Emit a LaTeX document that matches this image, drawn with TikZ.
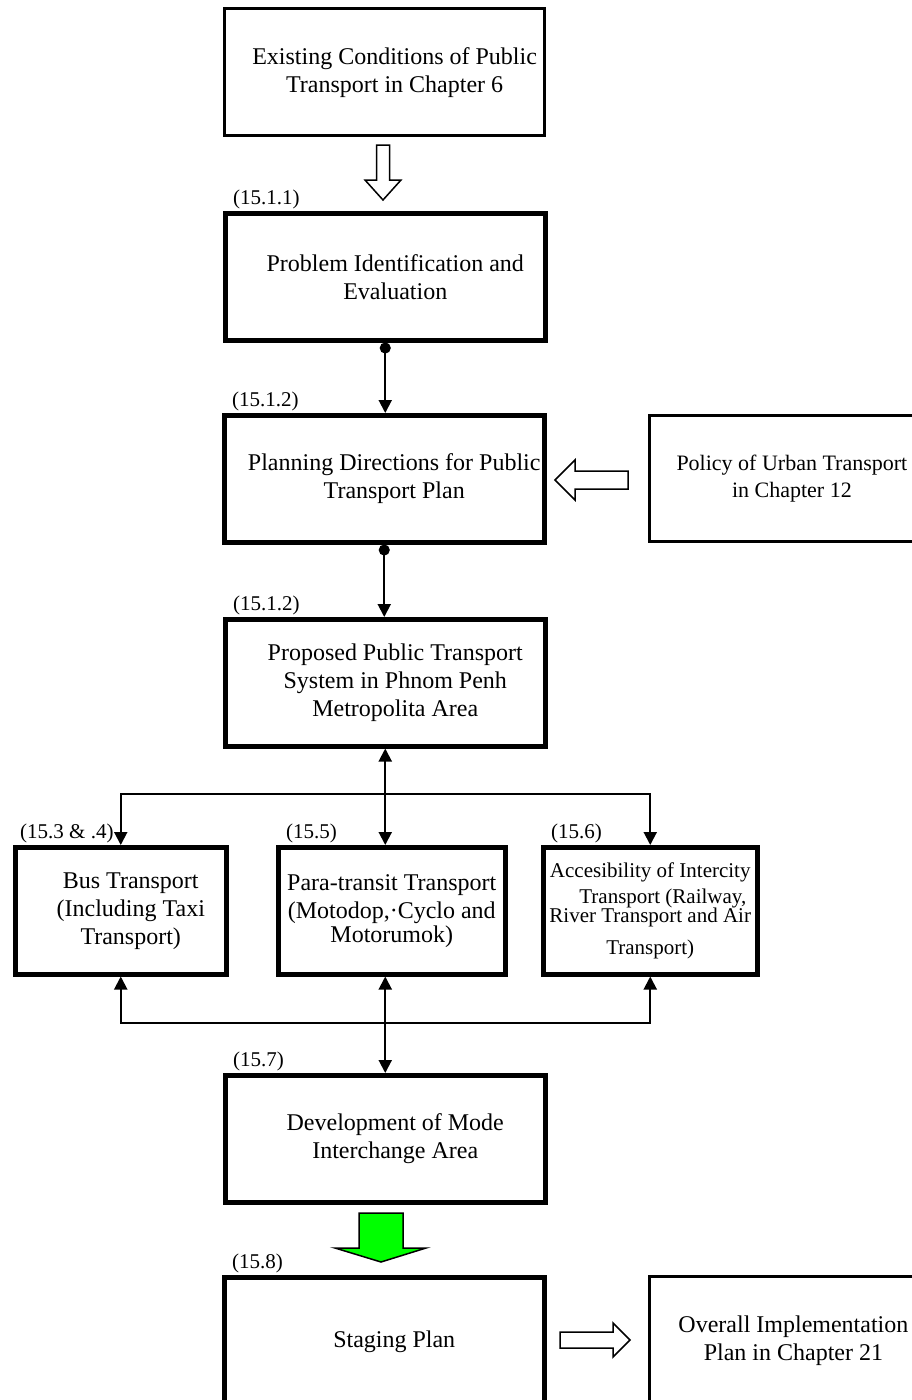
\documentclass[tikz,border=0pt]{standalone}
\usepackage{fontspec}
\setmainfont{Liberation Serif}
\usetikzlibrary{arrows.meta}
\tikzset{
  pt box/.style={draw=black, line width=4.5pt, fill=white, minimum width=320pt,
    minimum height=127pt, align=center, anchor=north west, inner sep=1pt,
    font=\fontsize{24}{28}\selectfont},
  pt side/.style={pt box, line width=2.8pt, font=\fontsize{22}{27}\selectfont},
  pt nudge/.style={align=flush center, text width=#1,
    execute at begin node={\leftskip=20pt plus 1fil\spaceskip=0pt\xspaceskip=0pt\relax}},
  pt tag/.style={anchor=south west, inner sep=0pt, xshift=10pt, yshift=2pt,
    font=\fontsize{21}{24}\selectfont},
  pt link/.style={line width=2pt, -{Triangle[length=13pt,width=13pt]}},
  pt both/.style={line width=2pt, {Triangle[length=13pt,width=13pt]}-{Triangle[length=13pt,width=13pt]}},
  pt dot/.style={line width=2pt, {Circle[length=11pt]}-{Triangle[length=13pt,width=13pt]}},
  pt hollow/.style={draw=black, line width=1.5pt, fill=white, line join=miter},
  pt green/.style={draw=black, line width=1.5pt, fill=green, line join=miter}
}
\begin{document}
\begin{tikzpicture}[x=1pt, y=-1pt]
  \useasboundingbox (0,0) rectangle (911,1400);
  % main column
  \node[pt box, pt nudge=318pt, line width=3.3pt] (exist) at (223,7) {Existing Conditions of Public\\Transport in Chapter 6};
  \node[pt box, pt nudge=318pt] (prob) at (223,211) {Problem Identification and\\Evaluation};
  \node[pt box, pt nudge=318pt] (plan) at (222,413) {Planning Directions for Public\\Transport Plan};
  \node[pt box, pt nudge=318pt] (prop) at (223,617) {Proposed Public Transport\\System in Phnom Penh\\Metropolita Area};
  \node[pt side, minimum width=285pt, minimum height=126pt] (policy) at (648,414) {Policy of Urban Transport\\in Chapter 12};
  % the three modes
  \node[pt box, pt nudge=205pt, minimum width=211pt] (bus) at (13,845) {Bus Transport\\(Including Taxi\\Transport)};
  \node[pt box, minimum width=227pt] (para) at (276,845) {Para-transit Transport\\(Motodop,·Cyclo and\\[-4pt]Motorumok)};
  \node[pt box, minimum width=214pt, inner sep=0pt, font=\fontsize{21}{26}\selectfont] (acc) at (541,845)
    {Accesibility of Intercity\\\hspace*{1.2em}Transport (Railway,\\[-7pt]River Transport and Air\\[6pt]Transport)};
  \node[pt box, pt nudge=318pt] (dev) at (223,1073) {Development of Mode\\Interchange Area};
  \node[pt box, pt nudge=318pt, minimum height=128pt] (stage) at (222,1275) {Staging Plan};
  \node[pt side, minimum width=288pt, minimum height=128pt, font=\fontsize{24}{28}\selectfont] (overall) at (648,1275) {Overall Implementation\\Plan in Chapter 21};
  % section numbers
  \node[pt tag] (t1) at (prob.north west) {(15.1.1)};
  \node[pt tag] (t2) at (plan.north west) {(15.1.2)};
  \node[pt tag] (t3) at (prop.north west) {(15.1.2)};
  \node[pt tag, xshift=-3pt] (t4) at (bus.north west) {(15.3 \& .4)};
  \node[pt tag] (t5) at (para.north west) {(15.5)};
  \node[pt tag] (t6) at (acc.north west) {(15.6)};
  \node[pt tag] (t7) at (dev.north west) {(15.7)};
  \node[pt tag] (t8) at (stage.north west) {(15.8)};
  % block arrows
  \draw[pt hollow] (376.5,145) -- (389.5,145) -- (389.5,180) -- (401,180) -- (383,200)
    -- (365,180) -- (376.5,180) -- cycle;
  \draw[pt hollow] (628,471) -- (575,471) -- (575,460) -- (555,480) -- (575,500)
    -- (575,489) -- (628,489) -- cycle;
  \draw[pt green] (359,1213) -- (403,1213) -- (403,1248) -- (426,1248) -- (381,1262)
    -- (335,1248) -- (359,1248) -- cycle;
  \draw[pt hollow] (560,1332) -- (613,1332) -- (613,1323) -- (630,1340) -- (613,1357)
    -- (613,1348) -- (560,1348) -- cycle;
  % connectors
  \draw[pt dot] (prob.south) -- (prob.south |- plan.north);
  \draw[pt dot] (plan.south) -- (plan.south |- prop.north);
  \coordinate (fork) at (prop.south |- 0,794);
  \coordinate (join) at (prop.south |- 0,1023);
  \draw[pt both] (prop.south) -- (prop.south |- para.north);
  \draw[pt link] (fork) -| (bus.north);
  \draw[pt link] (fork) -| (acc.north);
  \draw[pt both] (prop.south |- para.south) -- (prop.south |- dev.north);
  \draw[pt link] (join) -| (bus.south);
  \draw[pt link] (join) -| (acc.south);
\end{tikzpicture}
\end{document}
